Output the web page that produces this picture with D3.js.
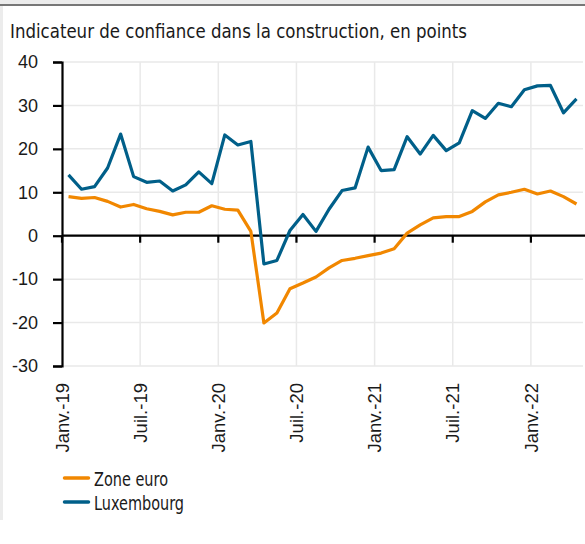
<!DOCTYPE html>
<html lang="fr">
<head>
<meta charset="UTF-8">
<title>Indicateur de confiance dans la construction</title>
<script src="https://d3js.org/d3.v7.min.js"></script>
<style>
    body { margin: 0; background: #fff; }
    svg { display: block; }
    .cond { font-family: "Liberation Sans Narrow", "DejaVu Sans Condensed", "Liberation Sans", sans-serif; }
    .tick-lab { font-family: "Liberation Sans", Arial, sans-serif; fill: #1a1a1a; }
</style>
</head>
<body>
<svg id="chart"></svg>
<script>
    // monthly, Janv. 2019 -> Avr. 2022
    const months = d3.range(40);
    const zoneEuro = [9.0, 8.6, 8.8, 7.9, 6.6, 7.2, 6.2, 5.6, 4.8, 5.4, 5.4, 6.9, 6.1, 5.9, 1.0,
        -20.1, -17.8, -12.2, -10.9, -9.5, -7.4, -5.7, -5.2, -4.6, -4.0, -3.0, 0.6, 2.5, 4.1, 4.4,
        4.4, 5.6, 7.8, 9.4, 10.0, 10.7, 9.6, 10.3, 9.0, 7.3];
    const luxembourg = [14.0, 10.7, 11.3, 15.6, 23.4, 13.6, 12.3, 12.6, 10.3, 11.7, 14.7, 12.0, 23.2, 20.9, 21.7,
        -6.5, -5.7, 1.2, 4.9, 1.0, 6.1, 10.4, 11.0, 20.4, 15.0, 15.2, 22.8, 18.8, 23.1, 19.6,
        21.4, 28.8, 27.0, 30.5, 29.7, 33.6, 34.5, 34.6, 28.3, 31.5];
    const tickMonths = [0, 6, 12, 18, 24, 30, 36];
    const tickLabels = ["Janv.-19", "Juil.-19", "Janv.-20", "Juil.-20", "Janv.-21", "Juil.-21", "Janv.-22"];
    const yTicks = [-30, -20, -10, 0, 10, 20, 30, 40];
    const seriesNames = ["Zone euro", "Luxembourg"];
    const legendWidths = [74, 90];
    const colors = ["#F18700", "#005F89"];

    const W = 585, H = 544;
    const margin = { top: 62, left: 62, right: 2 };
    const plotH = 366 - 62;

    const svg = d3.select("#chart").attr("width", W).attr("height", H);

    // page frame
    svg.append("rect").attr("x", 0).attr("y", 0).attr("width", W).attr("height", 5).attr("fill", "#ececec");
    svg.append("rect").attr("x", 0).attr("y", 0).attr("width", 3).attr("height", 520).attr("fill", "#ececec");
    svg.append("rect").attr("x", 0).attr("y", 4).attr("width", W).attr("height", 2).attr("fill", "#777");

    svg.append("text")
        .attr("class", "cond")
        .attr("x", 10).attr("y", 38)
        .style("font-size", "19px")
        .attr("textLength", 457)
        .attr("lengthAdjust", "spacingAndGlyphs")
        .attr("fill", "#1a1a1a")
        .text("Indicateur de confiance dans la construction, en points");

    const x = d3.scaleBand()
        .domain(months)
        .range([margin.left, W - margin.right])
        .padding(0);

    const y = d3.scaleLinear()
        .domain([-30, 40])
        .range([margin.top + plotH, margin.top]);

    const g = svg.append("g");

    // gridlines
    g.selectAll(".hgrid")
        .data(yTicks)
        .enter().append("line")
        .attr("x1", margin.left).attr("x2", W - margin.right)
        .attr("y1", d => y(d)).attr("y2", d => y(d))
        .attr("stroke", "#e9e9e9").attr("stroke-width", 1.5);

    g.selectAll(".vgrid")
        .data(tickMonths.slice(1))
        .enter().append("line")
        .attr("x1", d => x(d)).attr("x2", d => x(d))
        .attr("y1", y(40)).attr("y2", y(-30))
        .attr("stroke", "#e9e9e9").attr("stroke-width", 1.5);

    // y axis
    const yAxis = svg.append("g")
        .attr("transform", "translate(" + margin.left + ",0)")
        .call(d3.axisLeft(y).tickValues(yTicks).tickSize(9).tickPadding(15).tickFormat(d3.format("d")));
    yAxis.select(".domain").attr("stroke", "#000").attr("stroke-width", 2.2);
    yAxis.selectAll(".tick line").attr("stroke", "#000").attr("stroke-width", 2.2);
    yAxis.selectAll(".tick text").attr("class", "tick-lab").style("font-size", "18px").text(d => d < 0 ? "-" + Math.abs(d) : d);

    // x axis on zero line
    svg.append("line")
        .attr("x1", margin.left).attr("x2", W)
        .attr("y1", y(0)).attr("y2", y(0))
        .attr("stroke", "#000").attr("stroke-width", 2.2);

    svg.selectAll(".xtick")
        .data(tickMonths)
        .enter().append("line")
        .attr("x1", d => x(d)).attr("x2", d => x(d))
        .attr("y1", y(0)).attr("y2", y(0) + 7)
        .attr("stroke", "#000").attr("stroke-width", 2.2);

    svg.selectAll(".xlab")
        .data(tickMonths)
        .enter().append("text")
        .attr("class", "tick-lab")
        .attr("transform", d => "translate(" + x(d) + ",383) rotate(-90)")
        .attr("text-anchor", "end")
        .attr("dy", "0.36em")
        .style("font-size", "18.5px")
        .text((d, i) => tickLabels[i]);

    // lines
    const line = d3.line()
        .x((d, i) => x(months[i]) + x.bandwidth() / 2)
        .y(d => y(d));

    [zoneEuro, luxembourg].forEach((s, k) => {
        svg.append("path")
            .datum(s)
            .attr("fill", "none")
            .attr("stroke", colors[k])
            .attr("stroke-width", 3.2)
            .attr("stroke-linejoin", "round")
            .attr("d", line);
    });

    // legend
    const legend = svg.selectAll(".legend")
        .data(seriesNames)
        .enter().append("g")
        .attr("transform", (d, i) => "translate(63," + (478 + i * 24) + ")");

    legend.append("line")
        .attr("x1", 1.5).attr("x2", 25.5)
        .attr("stroke", (d, i) => colors[i])
        .attr("stroke-width", 3.5)
        .attr("stroke-linecap", "round");

    legend.append("text")
        .attr("class", "cond")
        .attr("x", 31).attr("y", 7.5)
        .style("font-size", "19px")
        .attr("textLength", (d, i) => legendWidths[i])
        .attr("lengthAdjust", "spacingAndGlyphs")
        .attr("fill", "#1a1a1a")
        .text(d => d);
</script>
</body>
</html>
